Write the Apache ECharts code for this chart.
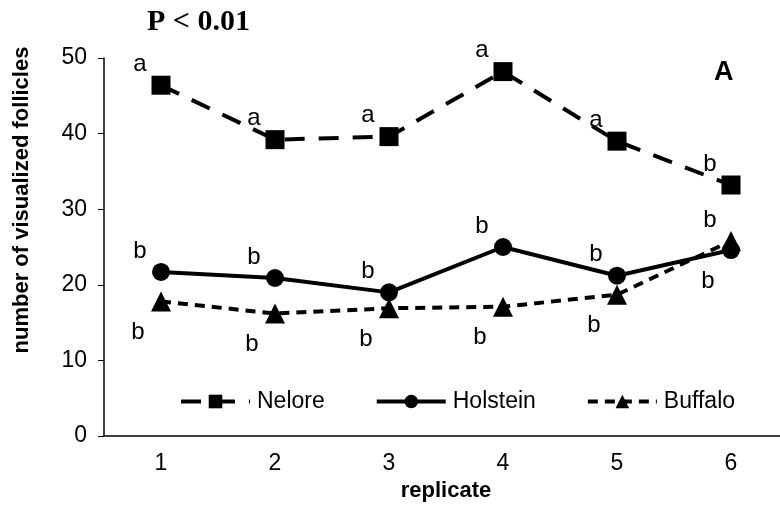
<!DOCTYPE html>
<html>
<head>
<meta charset="utf-8">
<script src="https://cdn.jsdelivr.net/npm/echarts@6/dist/echarts.min.js"></script>
<style>
  html, body { margin: 0; padding: 0; background: #fff; }
  #d { width: 780px; height: 507px; }
</style>
</head>
<body>
<div id="d"></div>
<script>
var replicates = ['1', '2', '3', '4', '5', '6'];
var nelore = [46.4, 39.2, 39.6, 48.2, 39.0, 33.2];
var holstein = [21.7, 20.9, 19.0, 25.0, 21.2, 24.6];
var buffalo = [17.8, 16.2, 16.9, 17.1, 18.7, 25.8];
var neloreLetters = ['a', 'a', 'a', 'a', 'a', 'b'];
var holsteinLetters = ['b', 'b', 'b', 'b', 'b', 'b'];
var buffaloLetters = ['b', 'b', 'b', 'b', 'b', 'b'];

var font = 'Liberation Sans, Arial, sans-serif';

// letter above-left or below-left of each point
function items(vals, letters, below) {
  var out = [];
  for (var i = 0; i < vals.length; i++) {
    out.push({
      value: vals[i],
      label: {
        show: true,
        formatter: letters[i],
        position: 'inside',
        offset: below[i] ? [-23, 31] : [-21, -21]
      }
    });
  }
  return out;
}

var myChart = echarts.init(document.getElementById('d'));
var option = {
  animation: false,
  grid: { left: 104, top: 58, width: 684, height: 378, outerBoundsMode: 'none', containLabel: false },
  xAxis: {
    type: 'category',
    data: replicates,
    name: 'replicate',
    nameLocation: 'middle',
    nameGap: 43,
    nameTextStyle: { fontFamily: font, fontWeight: 'bold', fontSize: 22, color: '#000' },
    axisLine: { lineStyle: { color: '#000', width: 1.5 } },
    axisTick: { length: 7, lineStyle: { color: '#000' } },
    axisLabel: { fontFamily: font, fontSize: 23, color: '#000', margin: 16 }
  },
  yAxis: {
    type: 'value',
    min: 0,
    max: 50,
    interval: 10,
    splitLine: { show: false },
    axisLine: { show: true, lineStyle: { color: '#000', width: 1.5 } },
    axisTick: { show: true, length: 6, lineStyle: { color: '#000' } },
    axisLabel: { fontFamily: font, fontSize: 23, color: '#000', margin: 17 }
  },
  legend: {
    left: 174,
    top: 385,
    itemWidth: 69,
    itemHeight: 17,
    itemGap: 50,
    lineStyle: { width: 4 },
    textStyle: { fontFamily: font, fontSize: 23, color: '#000', padding: [0, 0, 0, 2] },
    data: ['Nelore', 'Holstein', 'Buffalo']
  },
  series: [
    {
      name: 'Nelore',
      type: 'line',
      data: items(nelore, neloreLetters, [0, 0, 0, 0, 0, 0]),
      symbol: 'rect',
      symbolSize: 19,
      itemStyle: { color: '#000' },
      lineStyle: { color: '#000', width: 4, type: [20, 14] },
      label: { fontFamily: font, fontSize: 24, color: '#000' }
    },
    {
      name: 'Holstein',
      type: 'line',
      data: items(holstein, holsteinLetters, [0, 0, 0, 0, 0, 1]),
      symbol: 'circle',
      symbolSize: 18,
      itemStyle: { color: '#000' },
      lineStyle: { color: '#000', width: 4, type: 'solid' },
      label: { fontFamily: font, fontSize: 24, color: '#000' }
    },
    {
      name: 'Buffalo',
      type: 'line',
      data: items(buffalo, buffaloLetters, [1, 1, 1, 1, 1, 0]),
      symbol: 'triangle',
      symbolSize: 20,
      itemStyle: { color: '#000' },
      lineStyle: { color: '#000', width: 4, type: [10, 7] },
      label: { fontFamily: font, fontSize: 24, color: '#000' }
    }
  ],
  graphic: [
    {
      type: 'text',
      left: 147,
      top: 7,
      style: { text: 'P < 0.01', font: 'bold 30px "Liberation Serif", "Times New Roman", serif', fill: '#000' }
    },
    {
      type: 'text',
      left: 714,
      top: 59,
      style: { text: 'A', font: 'bold 27px "Liberation Sans", Arial, sans-serif', fill: '#000' }
    },
    {
      type: 'text',
      x: 22,
      y: 200,
      rotation: Math.PI / 2,
      style: {
        text: 'number of visualized follicles',
        font: 'bold 22px "Liberation Sans", Arial, sans-serif',
        fill: '#000',
        align: 'center',
        verticalAlign: 'middle'
      }
    }
  ]
};
myChart.setOption(option);
</script>
</body>
</html>
